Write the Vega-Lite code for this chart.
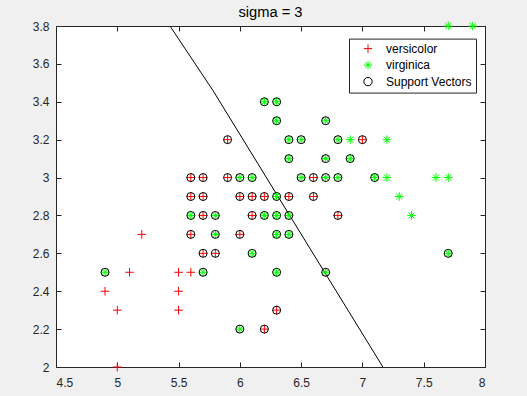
{
  "$schema": "https://vega.github.io/schema/vega-lite/v6.json",
  "width": 429,
  "height": 341,
  "autosize": {"type": "none"},
  "padding": {"left": 56, "top": 26, "right": 42, "bottom": 29},
  "background": "#f0f0f0",
  "title": {"text": "sigma = 3", "fontSize": 14.7, "fontWeight": "normal", "font": "Liberation Sans", "color": "#000000", "offset": 0},
  "datasets": {
    "points": [
      {"x": 5.9, "y": 3.2, "series": "versicolor"},
      {"x": 7.0, "y": 3.2, "series": "versicolor"},
      {"x": 5.6, "y": 3.0, "series": "versicolor"},
      {"x": 5.7, "y": 3.0, "series": "versicolor"},
      {"x": 5.9, "y": 3.0, "series": "versicolor"},
      {"x": 6.6, "y": 3.0, "series": "versicolor"},
      {"x": 5.6, "y": 2.9, "series": "versicolor"},
      {"x": 5.7, "y": 2.9, "series": "versicolor"},
      {"x": 6.0, "y": 2.9, "series": "versicolor"},
      {"x": 6.1, "y": 2.9, "series": "versicolor"},
      {"x": 6.2, "y": 2.9, "series": "versicolor"},
      {"x": 6.4, "y": 2.9, "series": "versicolor"},
      {"x": 6.6, "y": 2.9, "series": "versicolor"},
      {"x": 5.7, "y": 2.8, "series": "versicolor"},
      {"x": 6.1, "y": 2.8, "series": "versicolor"},
      {"x": 6.8, "y": 2.8, "series": "versicolor"},
      {"x": 5.2, "y": 2.7, "series": "versicolor"},
      {"x": 5.6, "y": 2.7, "series": "versicolor"},
      {"x": 6.0, "y": 2.7, "series": "versicolor"},
      {"x": 5.7, "y": 2.6, "series": "versicolor"},
      {"x": 5.8, "y": 2.6, "series": "versicolor"},
      {"x": 5.1, "y": 2.5, "series": "versicolor"},
      {"x": 5.5, "y": 2.5, "series": "versicolor"},
      {"x": 5.6, "y": 2.5, "series": "versicolor"},
      {"x": 4.9, "y": 2.4, "series": "versicolor"},
      {"x": 5.5, "y": 2.4, "series": "versicolor"},
      {"x": 5.0, "y": 2.3, "series": "versicolor"},
      {"x": 5.5, "y": 2.3, "series": "versicolor"},
      {"x": 6.3, "y": 2.3, "series": "versicolor"},
      {"x": 6.2, "y": 2.2, "series": "versicolor"},
      {"x": 5.0, "y": 2.0, "series": "versicolor"},
      {"x": 7.7, "y": 3.8, "series": "virginica"},
      {"x": 7.9, "y": 3.8, "series": "virginica"},
      {"x": 6.2, "y": 3.4, "series": "virginica"},
      {"x": 6.3, "y": 3.4, "series": "virginica"},
      {"x": 6.3, "y": 3.3, "series": "virginica"},
      {"x": 6.7, "y": 3.3, "series": "virginica"},
      {"x": 6.4, "y": 3.2, "series": "virginica"},
      {"x": 6.5, "y": 3.2, "series": "virginica"},
      {"x": 6.8, "y": 3.2, "series": "virginica"},
      {"x": 6.9, "y": 3.2, "series": "virginica"},
      {"x": 7.2, "y": 3.2, "series": "virginica"},
      {"x": 6.4, "y": 3.1, "series": "virginica"},
      {"x": 6.7, "y": 3.1, "series": "virginica"},
      {"x": 6.9, "y": 3.1, "series": "virginica"},
      {"x": 6.0, "y": 3.0, "series": "virginica"},
      {"x": 6.1, "y": 3.0, "series": "virginica"},
      {"x": 6.5, "y": 3.0, "series": "virginica"},
      {"x": 6.7, "y": 3.0, "series": "virginica"},
      {"x": 6.8, "y": 3.0, "series": "virginica"},
      {"x": 7.1, "y": 3.0, "series": "virginica"},
      {"x": 7.2, "y": 3.0, "series": "virginica"},
      {"x": 7.6, "y": 3.0, "series": "virginica"},
      {"x": 7.7, "y": 3.0, "series": "virginica"},
      {"x": 6.3, "y": 2.9, "series": "virginica"},
      {"x": 7.3, "y": 2.9, "series": "virginica"},
      {"x": 5.6, "y": 2.8, "series": "virginica"},
      {"x": 5.8, "y": 2.8, "series": "virginica"},
      {"x": 6.2, "y": 2.8, "series": "virginica"},
      {"x": 6.3, "y": 2.8, "series": "virginica"},
      {"x": 6.4, "y": 2.8, "series": "virginica"},
      {"x": 7.4, "y": 2.8, "series": "virginica"},
      {"x": 5.8, "y": 2.7, "series": "virginica"},
      {"x": 6.3, "y": 2.7, "series": "virginica"},
      {"x": 6.4, "y": 2.7, "series": "virginica"},
      {"x": 6.1, "y": 2.6, "series": "virginica"},
      {"x": 7.7, "y": 2.6, "series": "virginica"},
      {"x": 4.9, "y": 2.5, "series": "virginica"},
      {"x": 5.7, "y": 2.5, "series": "virginica"},
      {"x": 6.3, "y": 2.5, "series": "virginica"},
      {"x": 6.7, "y": 2.5, "series": "virginica"},
      {"x": 6.0, "y": 2.2, "series": "virginica"}
    ],
    "sv": [
      {"x": 5.9, "y": 3.2, "series": "Support Vectors"},
      {"x": 7.0, "y": 3.2, "series": "Support Vectors"},
      {"x": 5.6, "y": 3.0, "series": "Support Vectors"},
      {"x": 5.7, "y": 3.0, "series": "Support Vectors"},
      {"x": 5.9, "y": 3.0, "series": "Support Vectors"},
      {"x": 6.6, "y": 3.0, "series": "Support Vectors"},
      {"x": 5.6, "y": 2.9, "series": "Support Vectors"},
      {"x": 5.7, "y": 2.9, "series": "Support Vectors"},
      {"x": 6.0, "y": 2.9, "series": "Support Vectors"},
      {"x": 6.1, "y": 2.9, "series": "Support Vectors"},
      {"x": 6.2, "y": 2.9, "series": "Support Vectors"},
      {"x": 6.4, "y": 2.9, "series": "Support Vectors"},
      {"x": 6.6, "y": 2.9, "series": "Support Vectors"},
      {"x": 5.7, "y": 2.8, "series": "Support Vectors"},
      {"x": 6.1, "y": 2.8, "series": "Support Vectors"},
      {"x": 6.8, "y": 2.8, "series": "Support Vectors"},
      {"x": 5.6, "y": 2.7, "series": "Support Vectors"},
      {"x": 6.0, "y": 2.7, "series": "Support Vectors"},
      {"x": 5.7, "y": 2.6, "series": "Support Vectors"},
      {"x": 5.8, "y": 2.6, "series": "Support Vectors"},
      {"x": 6.3, "y": 2.3, "series": "Support Vectors"},
      {"x": 6.2, "y": 2.2, "series": "Support Vectors"},
      {"x": 6.2, "y": 3.4, "series": "Support Vectors"},
      {"x": 6.3, "y": 3.4, "series": "Support Vectors"},
      {"x": 6.3, "y": 3.3, "series": "Support Vectors"},
      {"x": 6.7, "y": 3.3, "series": "Support Vectors"},
      {"x": 6.4, "y": 3.2, "series": "Support Vectors"},
      {"x": 6.5, "y": 3.2, "series": "Support Vectors"},
      {"x": 6.8, "y": 3.2, "series": "Support Vectors"},
      {"x": 6.4, "y": 3.1, "series": "Support Vectors"},
      {"x": 6.7, "y": 3.1, "series": "Support Vectors"},
      {"x": 6.9, "y": 3.1, "series": "Support Vectors"},
      {"x": 6.0, "y": 3.0, "series": "Support Vectors"},
      {"x": 6.1, "y": 3.0, "series": "Support Vectors"},
      {"x": 6.5, "y": 3.0, "series": "Support Vectors"},
      {"x": 6.7, "y": 3.0, "series": "Support Vectors"},
      {"x": 6.8, "y": 3.0, "series": "Support Vectors"},
      {"x": 7.1, "y": 3.0, "series": "Support Vectors"},
      {"x": 6.3, "y": 2.9, "series": "Support Vectors"},
      {"x": 5.6, "y": 2.8, "series": "Support Vectors"},
      {"x": 5.8, "y": 2.8, "series": "Support Vectors"},
      {"x": 6.2, "y": 2.8, "series": "Support Vectors"},
      {"x": 6.3, "y": 2.8, "series": "Support Vectors"},
      {"x": 6.4, "y": 2.8, "series": "Support Vectors"},
      {"x": 5.8, "y": 2.7, "series": "Support Vectors"},
      {"x": 6.3, "y": 2.7, "series": "Support Vectors"},
      {"x": 6.4, "y": 2.7, "series": "Support Vectors"},
      {"x": 6.1, "y": 2.6, "series": "Support Vectors"},
      {"x": 7.7, "y": 2.6, "series": "Support Vectors"},
      {"x": 4.9, "y": 2.5, "series": "Support Vectors"},
      {"x": 5.7, "y": 2.5, "series": "Support Vectors"},
      {"x": 6.3, "y": 2.5, "series": "Support Vectors"},
      {"x": 6.7, "y": 2.5, "series": "Support Vectors"},
      {"x": 6.0, "y": 2.2, "series": "Support Vectors"}
    ],
    "boundary": [
      {"x": 5.43, "y": 3.8},
      {"x": 5.78, "y": 3.46},
      {"x": 6.43, "y": 2.775},
      {"x": 7.167, "y": 2.0}
    ]
  },
  "layer": [
    {
      "data": {"name": "boundary"},
      "mark": {"type": "line", "color": "#000000", "strokeWidth": 1, "clip": true},
      "encoding": {
        "x": {"field": "x", "type": "quantitative", "scale": {"domain": [4.5, 8], "nice": false, "zero": false},
              "axis": {"orient": "top", "labels": false, "values": [4.5, 5, 5.5, 6, 6.5, 7, 7.5, 8], "title": null}},
        "y": {"field": "y", "type": "quantitative", "scale": {"domain": [2, 3.8], "nice": false, "zero": false},
              "axis": {"orient": "right", "labels": false, "values": [2, 2.2, 2.4, 2.6, 2.8, 3, 3.2, 3.4, 3.6, 3.8], "title": null}},
        "order": {"field": "x", "type": "quantitative"}
      }
    },
    {
      "data": {"name": "points"},
      "mark": {"type": "point", "filled": false, "strokeWidth": 1, "opacity": 1, "size": 75},
      "encoding": {
        "x": {"field": "x", "type": "quantitative",
              "axis": {"orient": "bottom", "values": [4.5, 5, 5.5, 6, 6.5, 7, 7.5, 8], "format": "~g", "title": null}},
        "y": {"field": "y", "type": "quantitative",
              "axis": {"orient": "left", "values": [2, 2.2, 2.4, 2.6, 2.8, 3, 3.2, 3.4, 3.6, 3.8], "format": "~g", "title": null}},
        "color": {"field": "series", "type": "nominal",
                  "scale": {"domain": ["versicolor", "virginica", "Support Vectors"], "range": ["#ff0000", "#00ff00", "#000000"]},
                  "legend": {"title": null}},
        "shape": {"field": "series", "type": "nominal",
                  "scale": {"domain": ["versicolor", "virginica", "Support Vectors"],
                            "range": ["M-1,0L1,0M0,-1L0,1", "M-1,0L1,0M0,-1L0,1M-0.7,-0.7L0.7,0.7M-0.7,0.7L0.7,-0.7", "circle"]},
                  "legend": {"title": null}}
      }
    },
    {
      "data": {"name": "sv"},
      "mark": {"type": "point", "filled": false, "strokeWidth": 1, "opacity": 1, "size": 64},
      "encoding": {
        "x": {"field": "x", "type": "quantitative", "axis": null},
        "y": {"field": "y", "type": "quantitative", "axis": null},
        "color": {"field": "series", "type": "nominal"},
        "shape": {"field": "series", "type": "nominal"}
      }
    }
  ],
  "resolve": {"axis": {"x": "independent", "y": "independent"}},
  "config": {
    "font": "Liberation Sans",
    "view": {"fill": "#ffffff", "stroke": "#262626", "strokeWidth": 1},
    "axis": {
      "grid": false,
      "domain": false,
      "tickColor": "#262626",
      "tickWidth": 1,
      "tickSize": -5,
      "labelFont": "Liberation Sans",
      "labelFontSize": 12,
      "labelColor": "#262626"
    },
    "axisBottom": {"labelPadding": 15},
    "axisLeft": {"labelPadding": 12},
    "legend": {
      "orient": "none",
      "legendX": 293,
      "legendY": 12.6,
      "padding": 4,
      "fillColor": "#ffffff",
      "strokeColor": "#262626",
      "strokeWidth": 1,
      "symbolSize": 70,
      "symbolStrokeWidth": 1,
      "symbolOffset": 9,
      "labelOffset": 12,
      "labelFont": "Liberation Sans",
      "labelFontSize": 12,
      "labelColor": "#000000",
      "rowPadding": 2.5
    }
  }
}
